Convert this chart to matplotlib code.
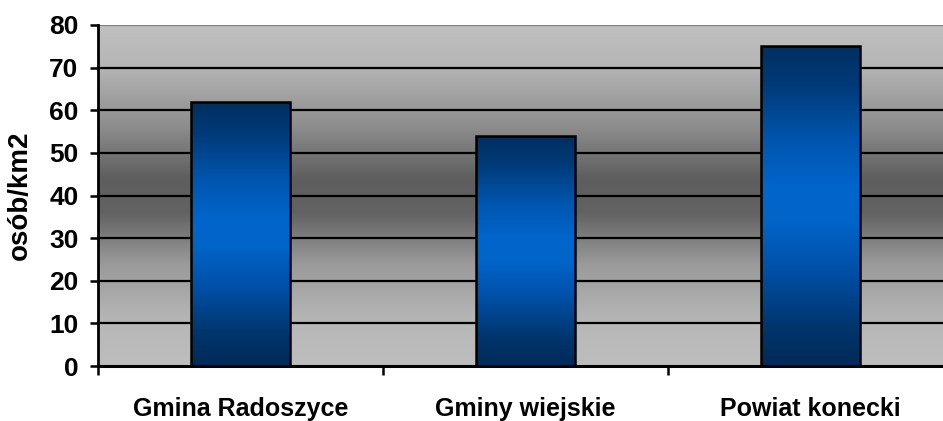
import numpy as np
import matplotlib
matplotlib.use("Agg")
import matplotlib.pyplot as plt
from matplotlib.colors import LinearSegmentedColormap

categories=["Gmina Radoszyce","Gminy wiejskie","Powiat konecki"]
values=[62,54,75]
yticks=[0,10,20,30,40,50,60,70,80]
ylabel="osób/km2"

plt.rcParams["font.family"]=["Liberation Sans","DejaVu Sans"]
plt.rcParams["font.weight"]="bold"

W,H=943,421
fig=plt.figure(figsize=(W/100,H/100),dpi=100)
# right edge of the plot is cut off in the original picture
ax=fig.add_axes([98/W,55/H,855/W,341/H])

ax.set_xlim(-0.5,2.5)
ax.set_ylim(0,80)

# background gradient: light at top and bottom, dark in the middle
bg=LinearSegmentedColormap.from_list(
    "bg",
    [(0.0,"#bdbdbd"),(0.12,"#b8b8b8"),(0.3,"#9a9a9a"),(0.45,"#626262"),
     (0.55,"#5e5e5e"),(0.7,"#8c8c8c"),(0.88,"#b5b5b5"),(1.0,"#c0c0c0")]
)
grad=np.linspace(0,1,256).reshape(-1,1)
ax.imshow(grad,cmap=bg,origin="lower",aspect="auto",
          extent=[-0.5,2.5,0,80],zorder=0)

for y in yticks[1:-1]:
    ax.axhline(y,color="black",lw=1.6,zorder=1)
ax.axhline(80,color="#808080",lw=1.6,zorder=1)

# bars with vertical gradient
barcm=LinearSegmentedColormap.from_list(
    "bar",
    [(0.0,"#002a58"),(0.12,"#00356c"),(0.3,"#0050a8"),(0.45,"#0064c8"),
     (0.55,"#0066cc"),(0.7,"#0056b0"),(0.88,"#003a78"),(1.0,"#002f60")]
)
width=0.35
bars=ax.bar(range(len(values)),values,width=width,
            facecolor="none",edgecolor="black",lw=1.8,zorder=3)
for i,(b,v) in enumerate(zip(bars,values)):
    im=ax.imshow(grad,cmap=barcm,origin="lower",aspect="auto",
                 extent=[i-width/2,i+width/2,0,v],zorder=2)
    im.set_clip_path(b)

ax.set_xlim(-0.5,2.5)
ax.set_ylim(0,80)

for s in ["top","right"]:
    ax.spines[s].set_visible(False)
ax.spines["left"].set_linewidth(2)
ax.spines["bottom"].set_linewidth(2.2)
ax.spines["left"].set_zorder(4)
ax.spines["bottom"].set_zorder(4)

ax.set_yticks(yticks)
ax.set_yticklabels([str(t) for t in yticks],fontsize=19,fontweight="bold")
ax.tick_params(axis="y",direction="out",length=6,width=1.8,pad=8)

ax.set_xticks([-0.5,0.5,1.5,2.5])
ax.set_xticklabels([])
ax.tick_params(axis="x",which="major",direction="out",length=6.5,width=1.8)
ax.set_xticks([0,1,2],minor=True)
ax.set_xticklabels(categories,minor=True,fontsize=18,fontweight="bold")
ax.tick_params(axis="x",which="minor",length=0,pad=22)

ax.set_ylabel(ylabel,fontsize=20,fontweight="bold")
ax.yaxis.set_label_coords(-65/855,0.5)

fig.savefig("out.png",dpi=100)
